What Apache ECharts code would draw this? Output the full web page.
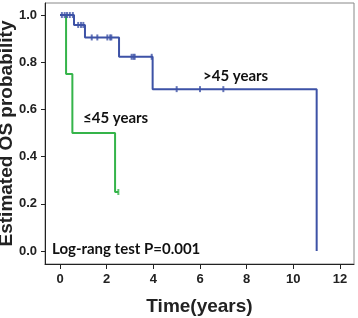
<!DOCTYPE html>
<html>
<head>
<meta charset="utf-8">
<script src="https://cdn.jsdelivr.net/npm/echarts@6/dist/echarts.min.js"></script>
<style>
  html, body { margin: 0; padding: 0; background: #fff; }
  #chart { width: 358px; height: 318px; }
</style>
</head>
<body>
<div id="chart"></div>
<script>
// KM curve for >45 years: event times and survival after each step
const oldTimes = [0, 0.6, 1.07, 2.53, 3.97, 11.0];
const oldSurv = [1.0, 0.958, 0.905, 0.823, 0.686, 0.0];
// censored cases (>45)
const oldCensorT = [0.08, 0.2, 0.3, 0.42, 0.55, 0.78, 0.9, 1.0, 1.36, 1.6, 2.03, 2.15, 2.2, 3.07, 3.15, 3.2, 3.93, 5.0, 6.0, 7.0];
const oldCensorS = [1, 1, 1, 1, 1, 0.958, 0.958, 0.958, 0.905, 0.905, 0.905, 0.905, 0.905, 0.823, 0.823, 0.823, 0.823, 0.686, 0.686, 0.686];

// KM curve for <=45 years
const youngTimes = [0, 0.26, 0.53, 2.36, 2.5];
const youngSurv = [1.0, 0.75, 0.5, 0.25, 0.25];
const youngCensorT = [2.5];
const youngCensorS = [0.25];

const xTicks = [0, 2, 4, 6, 8, 10, 12];
const yTicks = [0, 0.2, 0.4, 0.6, 0.8, 1.0];

const blue = '#3d52a6';
const green = '#35b44a';
const noteFont = 'bold 15px Lato, "Noto Sans", sans-serif';

const chart = echarts.init(document.getElementById('chart'));

const zip = (a, b) => a.map((v, i) => [v, b[i]]);

chart.setOption({
  animation: false,
  grid: {
    left: 45, top: 3, right: 4, bottom: 54,
    outerBoundsMode: 'none', containLabel: false,
    show: true, borderColor: '#888', borderWidth: 1
  },
  xAxis: {
    type: 'value', min: -0.643, max: 12.6,
    splitLine: { show: false },
    axisLine: { onZero: false, lineStyle: { color: '#222', width: 1 } },
    axisTick: { show: true, length: 5, customValues: xTicks, lineStyle: { color: '#222' } },
    axisLabel: {
      customValues: xTicks, color: '#222', fontSize: 13, fontWeight: 'bold',
      fontFamily: 'Liberation Sans', margin: 9
    },
    name: 'Time(years)', nameLocation: 'middle', nameGap: 33, nameMoveOverlap: false,
    nameTextStyle: { fontSize: 19, fontWeight: 'bold', color: '#222', fontFamily: 'Liberation Sans' }
  },
  yAxis: {
    type: 'value', min: -0.055, max: 1.051,
    splitLine: { show: false },
    axisLine: { show: true, onZero: false, lineStyle: { color: '#222', width: 1 } },
    axisTick: { show: true, length: 4, customValues: yTicks, lineStyle: { color: '#222' } },
    axisLabel: {
      customValues: yTicks, color: '#222', fontSize: 13, fontWeight: 'bold',
      fontFamily: 'Liberation Sans', margin: 8,
      formatter: v => v.toFixed(1)
    },
    name: 'Estimated OS probability', nameLocation: 'middle', nameGap: 29, nameMoveOverlap: false,
    nameTextStyle: { fontSize: 19, fontWeight: 'bold', color: '#222', fontFamily: 'Liberation Sans' }
  },
  series: [
    {
      type: 'line', step: 'end', data: zip(oldTimes, oldSurv),
      showSymbol: false, lineStyle: { color: blue, width: 2 }, z: 3
    },
    {
      type: 'line', step: 'end', data: zip(youngTimes, youngSurv),
      showSymbol: false, lineStyle: { color: green, width: 2 }, z: 2
    },
    {
      type: 'scatter', data: zip(oldCensorT, oldCensorS),
      symbol: 'rect', symbolSize: [2, 6], itemStyle: { color: blue }, z: 4
    },
    {
      type: 'scatter', data: zip(youngCensorT, youngCensorS),
      symbol: 'rect', symbolSize: [2, 6], itemStyle: { color: green }, z: 4
    }
  ],
  graphic: [
    { type: 'text', left: 203, top: 69, style: { text: '>45 years', font: noteFont, fill: '#111' } },
    { type: 'text', left: 83, top: 111, style: { text: '≤45 years', font: noteFont, fill: '#111' } },
    { type: 'text', left: 52, top: 242, style: { text: 'Log-rang test P=0.001', font: noteFont, fill: '#111' } }
  ]
});
</script>
</body>
</html>
